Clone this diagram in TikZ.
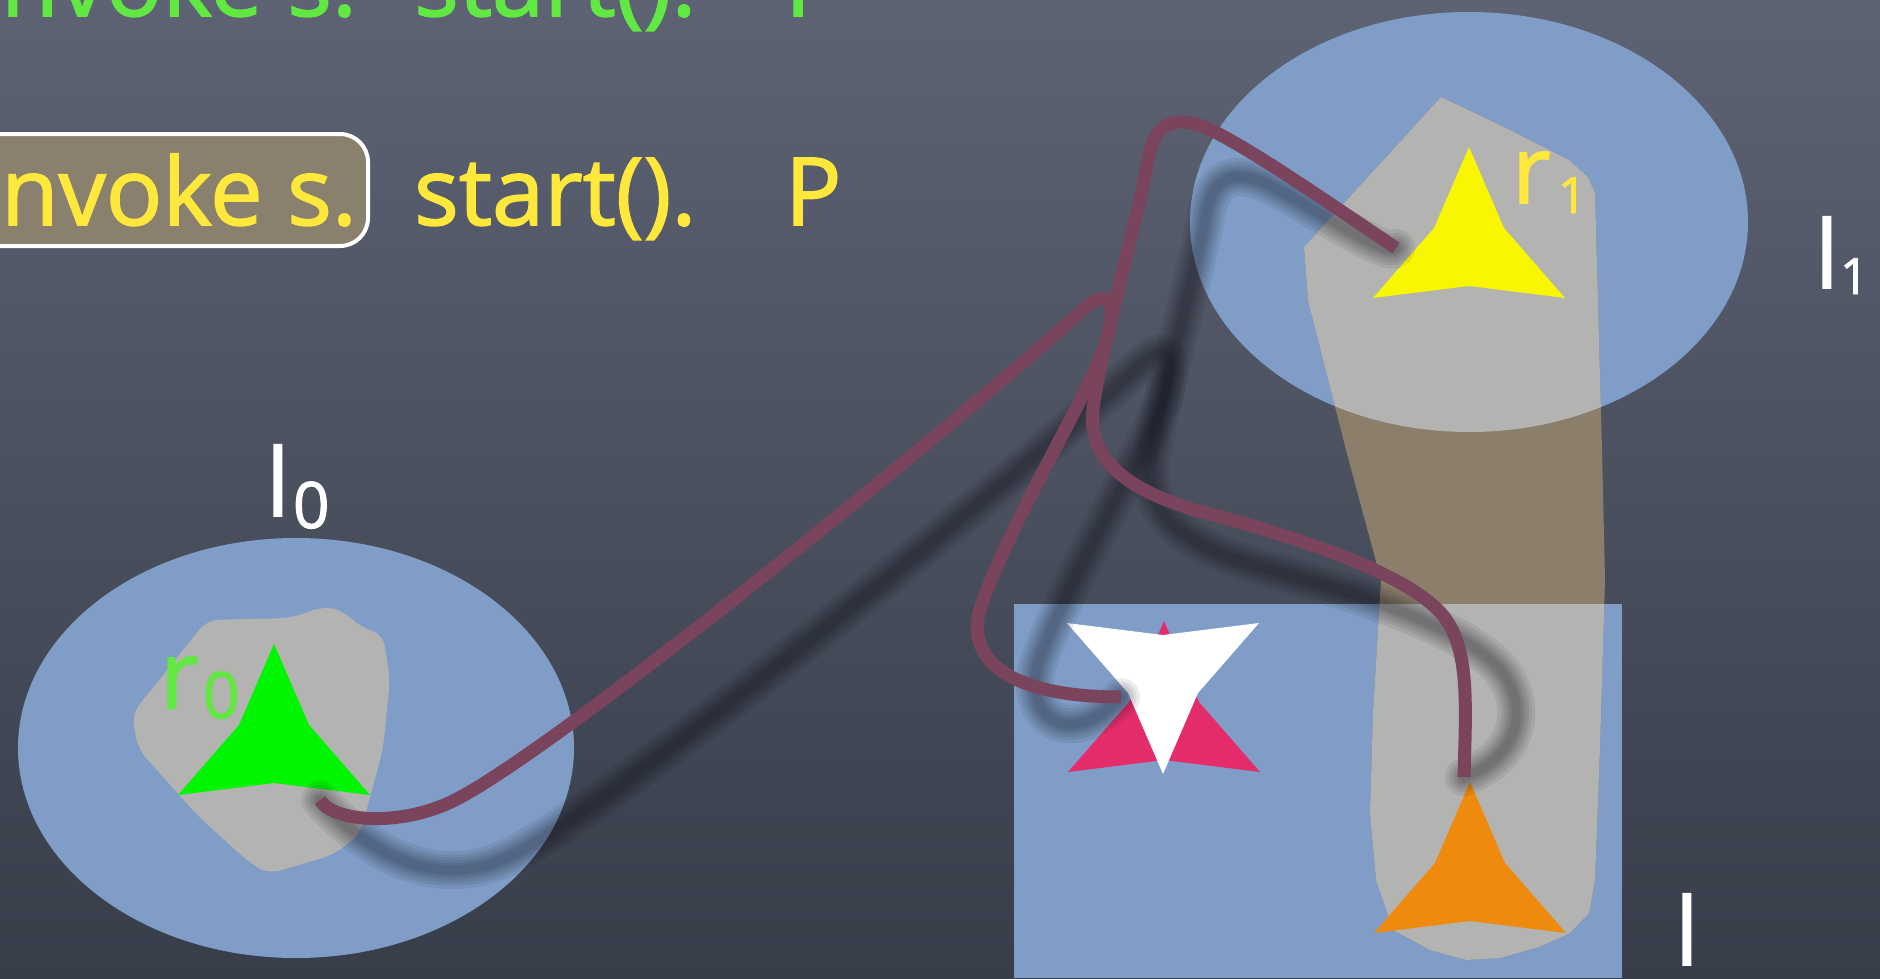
\documentclass[tikz,border=0pt]{standalone}
\usepackage{fontspec}
\setmainfont{Open Sans}[FakeBold=1.6]
\definecolor{bgtop}{RGB}{94,99,116}
\definecolor{bgbot}{RGB}{56,61,74}
\definecolor{regionblue}{RGB}{128,157,199}
\definecolor{tanfill}{RGB}{139,126,106}
\definecolor{rgray}{RGB}{179,179,177}
\definecolor{boxfill}{RGB}{138,128,110}
\definecolor{txtgreen}{RGB}{98,232,66}
\definecolor{txtyellow}{RGB}{255,232,60}
\definecolor{trigreen}{RGB}{0,245,0}
\definecolor{triyellow}{RGB}{248,246,0}
\definecolor{triorange}{RGB}{238,139,14}
\definecolor{tripink}{RGB}{228,44,107}
\definecolor{wirecol}{RGB}{122,68,92}
\definecolor{shadowcol}{RGB}{10,12,20}
\begin{document}
\begin{tikzpicture}[x=1pt,y=-1pt,
  bigtext/.style={inner sep=0pt, outer sep=0pt, font=\fontsize{94}{110}\selectfont},
  subtext/.style={inner sep=0pt, outer sep=0pt, font=\fontsize{64}{70}\selectfont},
  smalltext/.style={inner sep=0pt, outer sep=0pt, font=\fontsize{50}{56}\selectfont},
  region/.style={fill=regionblue},
  wire/.style={draw=wirecol, line width=13pt, line cap=butt},
  shadowline/.style={draw=shadowcol, line cap=round, opacity=0.075},
  dart/.pic={\fill[pic actions] (0,0) -- (35,81) -- (96,151) -- (0,139) -- (-96,151) -- (-35,81) -- cycle;}
]
\useasboundingbox (0,0) rectangle (1880,978);
\clip (0,0) rectangle (1880,978);
\shade[top color=bgtop, bottom color=bgbot] (0,0) rectangle (1880,978);

% code lines
\node[bigtext, text=txtgreen, anchor=base east] (g1) at (357,16) {invoke s.};
\node[bigtext, text=txtgreen, anchor=base west] (g2) at (414,16) {start().};
\node[bigtext, text=txtgreen, anchor=base west] (g3) at (785,16) {P};
\draw[white, line width=4pt, fill=boxfill, rounded corners=28pt] (-40,134) rectangle (368,246);
\node[bigtext, text=txtyellow, anchor=base east] (y1) at (357,225) {invoke s.};
\node[bigtext, text=txtyellow, anchor=base west] (y2) at (414,225) {start().};
\node[bigtext, text=txtyellow, anchor=base west] (y3) at (785,225) {P};

% locations
\fill[region] (296,748) ellipse [x radius=278, y radius=210];
\fill[region] (1469,222) ellipse [x radius=279, y radius=210];
\fill[region] (1014,604) rectangle (1622,978);

% tall resource region
\def\tallshape{(1441,97) -- (1504,127) -- (1569,160) -- (1588,177) -- (1595,193) -- (1602,450) -- (1605,580) -- (1600,747) -- (1595,880) -- (1589,913) -- (1570,933) -- (1539,947) -- (1500,958) -- (1466,960) -- (1430,950) -- (1393,930) -- (1376,880) -- (1370,813) -- (1373,713) -- (1381,580) -- (1346,450) -- (1308,300) -- (1304,247) -- cycle}
\fill[tanfill] \tallshape;
\begin{scope}
  \clip \tallshape;
  \fill[rgray] (1469,222) ellipse [x radius=279, y radius=210];
  \fill[rgray] (1014,604) rectangle (1622,978);
\end{scope}

% r0 blob
\fill[rgray, rounded corners=12pt] (132,714) -- (207,620) -- (291,618) -- (325,606) -- (345,612) -- (360,627) -- (383,634) -- (390,680) -- (383,749) -- (360,834) -- (333,855) -- (268,874) -- (249,862) -- (199,817) -- (138,749) -- cycle;

% labels
\node[bigtext, text=white, anchor=base west] (l0a) at (266,516) {l};
\node[subtext, text=white, anchor=base west] (l0b) at (293,528) {0};
\node[bigtext, text=white, anchor=base west] (l1a) at (1815,288) {l};
\node[smalltext, text=white, anchor=base west] (l1b) at (1840,294) {1};
\node[bigtext, text=white, anchor=base west] (la) at (1675,965) {l};
\node[bigtext, text=txtgreen, anchor=base west] (r0a) at (160,708) {r};
\node[subtext, text=txtgreen, anchor=base west] (r0b) at (203,718) {0};
\node[bigtext, text=txtyellow, anchor=base west] (r1a) at (1512,203) {r};
\node[smalltext, text=txtyellow, anchor=base west] (r1b) at (1558,213) {1};

% threads
\pic[fill=tripink] at (1164,621) {dart};
\pic[fill=white, yscale=-1] at (1163,774) {dart};
\pic[fill=trigreen] at (274,644) {dart};
\pic[fill=triyellow] at (1469,147) {dart};
\pic[fill=triorange] at (1470,782) {dart};

% connector end points
\coordinate (r0end) at (320,800);
\coordinate (rwend) at (1121,697);
\coordinate (r1end) at (1396,248);
\coordinate (rlend) at (1464,777);

\def\wireone{(r0end) .. controls (333,822) and (400,827) .. (453,801)
  .. controls (553,752) and (950,430) .. (1080,312)
  .. controls (1102,292) and (1118,290) .. (1108,335)
  .. controls (1097,382) and (1010,520) .. (980,609)
  .. controls (965,660) and (1010,697) .. (rwend)}
\def\wiretwo{(r1end) .. controls (1330,204) and (1260,155) .. (1215,132)
  .. controls (1180,114) and (1155,118) .. (1148,160)
  .. controls (1140,210) and (1100,350) .. (1093,410)
  .. controls (1088,455) and (1120,490) .. (1206,513)
  .. controls (1292,536) and (1400,570) .. (1440,612)
  .. controls (1470,645) and (1466,700) .. (rlend)}

% shadows
\begin{scope}[shift={(58,55)}]
  \foreach \w in {38,31,25,19,14,9}{
    \draw[shadowline, line width=\w pt] \wireone;
    \draw[shadowline, line width=\w pt] \wiretwo;
  }
\end{scope}

% wires
\draw[wire] \wireone;
\draw[wire] \wiretwo;
\end{tikzpicture}
\end{document}
